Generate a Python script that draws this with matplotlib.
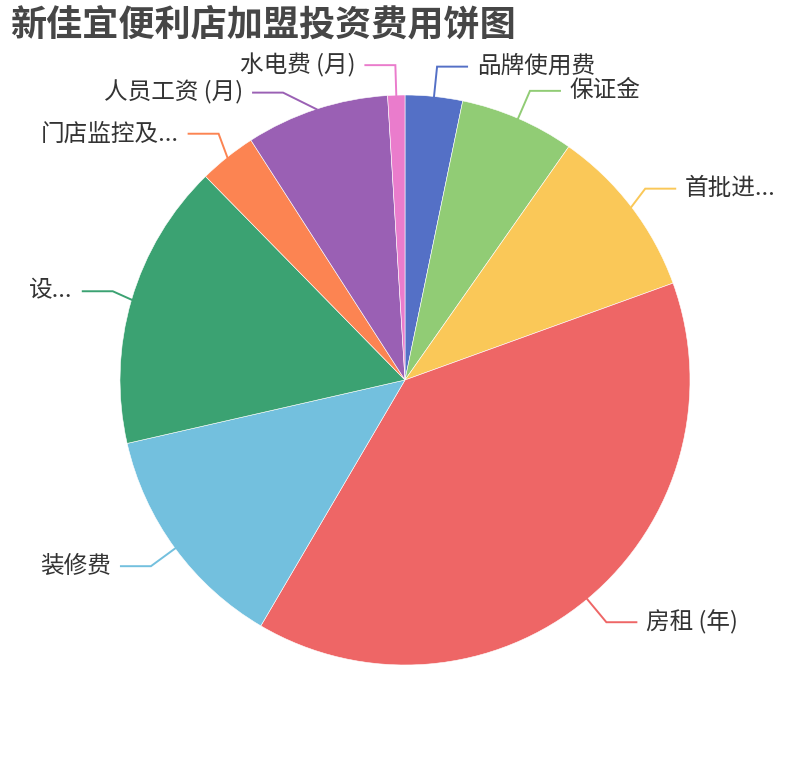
import numpy as np
import matplotlib
matplotlib.use("Agg")
import matplotlib.pyplot as plt

plt.rcParams['font.family'] = ['Noto Sans CJK SC', 'DejaVu Sans']

# pie data, clockwise from 12 o'clock
labels = ["品牌使用费", "保证金", "首批进...", "房租 (年)", "装修费",
          "设...", "门店监控及...", "人员工资 (月)", "水电费 (月)"]
values = [10000, 20000, 30000, 120000, 40000, 50000, 10000, 25000, 3000]
colors = ["#5470c6", "#91cc75", "#fac858", "#ee6666", "#73c0de",
          "#3ba272", "#fc8452", "#9a60b4", "#ea7ccc"]

title = "新佳宜便利店加盟投资费用饼图"

# layout in pixels (axes spans whole figure, y goes up)
W, H = 810, 760
cx, cy, r = 405, 380, 285
line_len, line_len2, gap = 30, 30, 10
# overlap-avoid shifts of the label elbow (dx, dy in pixels, y up)
nudge = {2: (-10, 0), 5: (10, 0), 6: (10, 0), 7: (-24, -12)}

fig = plt.figure(figsize=(W / 100, H / 100), dpi=100)
ax = fig.add_axes([0, 0, 1, 1])
ax.set_xlim(0, W)
ax.set_ylim(0, H)
ax.set_aspect("equal")
ax.axis("off")

wedges, _ = ax.pie(
    values,
    colors=colors,
    startangle=90,
    counterclock=False,
    center=(cx, cy),
    radius=r,
    wedgeprops=dict(edgecolor="white", linewidth=0.4),
    frame=True,
)
ax.set_xlim(0, W)
ax.set_ylim(0, H)
ax.axis("off")

for i, w in enumerate(wedges):
    mid = np.deg2rad((w.theta1 + w.theta2) / 2)
    dx, dy = np.cos(mid), np.sin(mid)
    x1, y1 = cx + r * dx, cy + r * dy
    x2, y2 = cx + (r + line_len) * dx, cy + (r + line_len) * dy
    ndx, ndy = nudge.get(i, (0, 0))
    x2, y2 = x2 + ndx, y2 + ndy
    side = 1 if dx >= 0 else -1
    x3 = x2 + side * line_len2
    ax.plot([x1, x2, x3], [y1, y2, y2], color=colors[i], lw=1.4,
            solid_joinstyle="miter")
    ax.text(x3 + side * gap, y2, labels[i], fontsize=17, color="#333333",
            ha="left" if side > 0 else "right", va="center")

ax.text(10, H - 25, title, fontsize=26, fontweight="bold", color="#464646",
        ha="left", va="center")

fig.savefig("out.png", dpi=100)
